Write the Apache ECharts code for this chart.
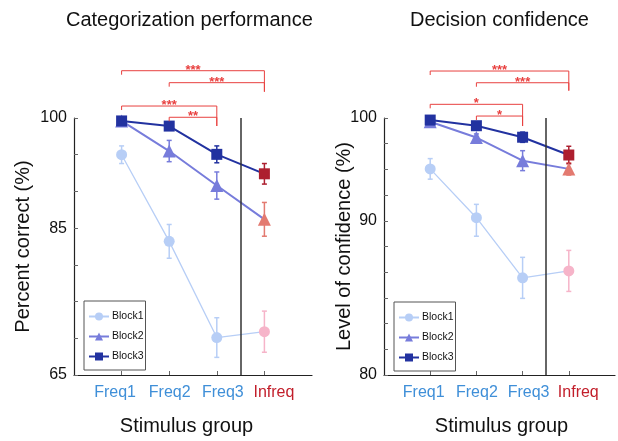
<!DOCTYPE html>
<html>
<head>
<meta charset="utf-8">
<script src="https://cdn.jsdelivr.net/npm/echarts/dist/echarts.min.js"></script>
<style>
    html, body { margin: 0; padding: 0; background: #fff; }
    #main { width: 618px; height: 441px; }
</style>
</head>
<body>
<div id="main"></div>
<script>
// 分组
const groups = ['Freq1', 'Freq2', 'Freq3', 'Infreq']
const groupPos = [1, 2, 3, 4]
const dividerPos = 3.5

// 左图: Percent correct (%)
const perfBlock1 = [95.0, 83.2, 70.1, 70.9]
const perfBlock1Err = [1.2, 2.3, 2.7, 2.8]
const perfBlock2 = [99.6, 95.5, 90.8, 86.2]
const perfBlock2Err = [0.3, 1.45, 1.85, 2.3]
const perfBlock3 = [99.6, 98.9, 95.05, 92.4]
const perfBlock3Err = [0.2, 0.3, 1.15, 1.4]
const perfTickLabels = [65, 85, 100]

// 右图: Level of confidence (%)
const confBlock1 = [95.05, 90.3, 86.3, 86.75]
const confBlock1Err = [1.0, 1.3, 1.33, 1.33]
const confBlock2 = [99.64, 98.1, 95.85, 95.05]
const confBlock2Err = [0.2, 0.35, 0.97, 0.6]
const confBlock3 = [99.8, 99.25, 98.13, 96.4]
const confBlock3Err = [0.15, 0.3, 0.5, 0.85]
// 右图纵轴不是等距的: 刻度值 -> 轴上位置
const confTickPct = [80, 90, 100]
const confTickPos = [0, 6, 10]

// 显著性标记 [from, to, level, rightEnd, stars]
const perfBrackets = [
    [1, 4, 106.44, 103.58, '***'],
    [2, 4, 104.81, 103.58, '***'],
    [1, 3, 101.63, 98.91, '***'],
    [2, 3, 100.1, 98.91, '**']
]
const confBrackets = [
    [1, 4, 104.57, 102.66, '***'],
    [2, 4, 103.43, 102.66, '***'],
    [1, 3, 101.33, 99.22, '*'],
    [2, 3, 100.19, 99.22, '*']
]

const C1 = '#b7cef6', C1i = '#f6b4c9'
const C2 = '#777cdb', C2i = '#e37a70'
const C3 = '#2232a0', C3i = '#ad1f2f'
const RED = '#e8403f'
const FONT = 'Liberation Sans, Arial, Helvetica, sans-serif'

function same (p) { return p }
function confToAxis (p) {
    let i = p < confTickPct[1] ? 0 : 1
    let t = (p - confTickPct[i]) / (confTickPct[i + 1] - confTickPct[i])
    return confTickPos[i] + t * (confTickPos[i + 1] - confTickPos[i])
}

function lineSeries (name, vals, toAxis, gi, color, infreqColor, symbol, size, width, z) {
    return {
        name: name,
        type: 'line',
        xAxisIndex: gi,
        yAxisIndex: gi,
        data: vals.map(function (v, i) {
            let item = { value: [groupPos[i], toAxis(v)] }
            if (i === 3) item.itemStyle = { color: infreqColor }
            return item
        }),
        symbol: symbol,
        symbolSize: size,
        lineStyle: { color: color, width: width },
        itemStyle: { color: color },
        z: z,
        animation: false
    }
}

function errSeries (vals, errs, toAxis, gi, color, infreqColor) {
    return {
        type: 'custom',
        xAxisIndex: gi,
        yAxisIndex: gi,
        z: 1,
        silent: true,
        clip: false,
        animation: false,
        data: vals.map(function (v, i) {
            return [groupPos[i], toAxis(v - errs[i]), toAxis(v + errs[i])]
        }),
        renderItem: function (params, api) {
            let a = api.coord([api.value(0), api.value(1)])
            let b = api.coord([api.value(0), api.value(2)])
            let c = params.dataIndex === 3 ? infreqColor : color
            let w = 2.5
            let st = { stroke: c, lineWidth: 1.5 }
            return {
                type: 'group',
                children: [
                    { type: 'line', shape: { x1: a[0], y1: a[1], x2: b[0], y2: b[1] }, style: st },
                    { type: 'line', shape: { x1: a[0] - w, y1: a[1], x2: a[0] + w, y2: a[1] }, style: st },
                    { type: 'line', shape: { x1: b[0] - w, y1: b[1], x2: b[0] + w, y2: b[1] }, style: st }
                ]
            }
        }
    }
}

function bracketSeries (list, toAxis, gi) {
    return {
        type: 'custom',
        xAxisIndex: gi,
        yAxisIndex: gi,
        z: 5,
        silent: true,
        clip: false,
        animation: false,
        data: list.map(function (b) {
            return [b[0], b[1], toAxis(b[2]), toAxis(b[3])]
        }),
        renderItem: function (params, api) {
            let p1 = api.coord([api.value(0), api.value(2)])
            let p2 = api.coord([api.value(1), api.value(2)])
            let p3 = api.coord([api.value(1), api.value(3)])
            return {
                type: 'group',
                children: [
                    {
                        type: 'polyline',
                        shape: { points: [[p1[0], p1[1] + 4], p1, p2, p3] },
                        style: { stroke: RED, lineWidth: 1, fill: 'none' }
                    },
                    {
                        type: 'text',
                        style: {
                            text: list[params.dataIndex][4],
                            x: (p1[0] + p2[0]) / 2,
                            y: p1[1] + 6,
                            align: 'center',
                            verticalAlign: 'bottom',
                            fill: RED,
                            fontSize: 13,
                            fontWeight: 'bold',
                            fontFamily: FONT
                        }
                    }
                ]
            }
        }
    }
}

function xAxisCfg (gi, namePad) {
    let rich = {
        g1: { fontSize: 16, color: '#3f8fd8', padding: [0, 13, 0, 0] },
        g2: { fontSize: 16, color: '#3f8fd8', padding: [0, 0, 0, 1] },
        g3: { fontSize: 16, color: '#3f8fd8', padding: [0, 0, 0, 12] },
        g4: { fontSize: 16, color: '#c21e2a', padding: [0, 0, 0, 19] }
    }
    return {
        type: 'value',
        gridIndex: gi,
        min: 0,
        max: 5,
        interval: 1,
        name: 'Stimulus group',
        nameLocation: 'middle',
        nameGap: 41,
        nameMoveOverlap: false,
        nameTextStyle: { fontSize: 20, color: '#111', padding: namePad },
        axisLine: { lineStyle: { color: '#222', width: 1.2 } },
        axisTick: {
            inside: true,
            length: 4,
            lineStyle: { color: '#666' },
            customValues: groupPos
        },
        splitLine: { show: false },
        axisLabel: {
            margin: 10,
            formatter: function (v) {
                return (v >= 1 && v <= 4) ? '{g' + v + '|' + groups[v - 1] + '}' : ''
            },
            rich: rich
        }
    }
}

function yAxisBase (gi, name, gap) {
    return {
        type: 'value',
        gridIndex: gi,
        name: name,
        nameLocation: 'middle',
        nameGap: gap,
        nameMoveOverlap: false,
        nameTextStyle: { fontSize: 20, color: '#111' },
        axisLine: { show: true, lineStyle: { color: '#222', width: 1.2 } },
        axisTick: { show: true, inside: true, length: 4, lineStyle: { color: '#666' } },
        splitLine: { show: false },
        axisLabel: { fontSize: 16, color: '#111', margin: 7 }
    }
}

let yLeft = yAxisBase(0, 'Percent correct (%)', 41)
yLeft.min = 65
yLeft.max = 100
yLeft.interval = 5
yLeft.axisLabel.formatter = function (v) {
    return perfTickLabels.indexOf(v) >= 0 ? String(v) : ''
}

let yRight = yAxisBase(1, 'Level of confidence (%)', 30)
yRight.min = 0
yRight.max = 10
yRight.interval = 1
yRight.axisLabel.formatter = function (u) {
    let i = confTickPos.indexOf(u)
    return i >= 0 ? String(confTickPct[i]) : ''
}

function legendCfg (left, top) {
    return {
        data: ['Block1', 'Block2', 'Block3'],
        orient: 'vertical',
        left: left,
        top: top,
        itemWidth: 20,
        itemHeight: 10,
        itemGap: 9,
        padding: [10, 2, 8, 4],
        borderColor: '#555',
        borderWidth: 1,
        borderRadius: 0,
        textStyle: { fontSize: 10.5, color: '#111', padding: [0, 0, 0, -2] },
        selectedMode: false
    }
}

let series = [
    errSeries(perfBlock1, perfBlock1Err, same, 0, C1, C1i),
    errSeries(perfBlock2, perfBlock2Err, same, 0, C2, C2i),
    errSeries(perfBlock3, perfBlock3Err, same, 0, C3, C3i),
    lineSeries('Block1', perfBlock1, same, 0, C1, C1i, 'circle', 11, 1.3, 2),
    lineSeries('Block2', perfBlock2, same, 0, C2, C2i, 'triangle', 13, 2, 3),
    lineSeries('Block3', perfBlock3, same, 0, C3, C3i, 'rect', 11, 2, 4),
    bracketSeries(perfBrackets, same, 0),

    errSeries(confBlock1, confBlock1Err, confToAxis, 1, C1, C1i),
    errSeries(confBlock2, confBlock2Err, confToAxis, 1, C2, C2i),
    errSeries(confBlock3, confBlock3Err, confToAxis, 1, C3, C3i),
    lineSeries('Block1', confBlock1, confToAxis, 1, C1, C1i, 'circle', 11, 1.3, 2),
    lineSeries('Block2', confBlock2, confToAxis, 1, C2, C2i, 'triangle', 13, 2, 3),
    lineSeries('Block3', confBlock3, confToAxis, 1, C3, C3i, 'rect', 11, 2, 4),
    bracketSeries(confBrackets, confToAxis, 1)
]

// 分隔线 Freq | Infreq
;[5, 12].forEach(function (k) {
    series[k].markLine = {
        silent: true,
        symbol: 'none',
        animation: false,
        label: { show: false },
        lineStyle: { color: '#333', width: 1.5, type: 'solid' },
        data: [{ xAxis: dividerPos }]
    }
})

let myChart = echarts.init(document.getElementById('main'))
myChart.setOption({
    animation: false,
    textStyle: { fontFamily: FONT },
    title: [
        { text: 'Categorization performance', left: 61, top: 5, textStyle: { fontSize: 20, fontWeight: 'normal', color: '#111' } },
        { text: 'Decision confidence', left: 405, top: 5, textStyle: { fontSize: 20, fontWeight: 'normal', color: '#111' } }
    ],
    legend: [legendCfg(84, 301), legendCfg(394, 302)],
    grid: [
        { left: 74, top: 118, width: 238, height: 258 },
        { left: 384, top: 118, width: 237, height: 258 }
    ],
    xAxis: [xAxisCfg(0, [0, 13, 0, 0]), xAxisCfg(1, [0, 0, 0, 4])],
    yAxis: [yLeft, yRight],
    series: series
})
</script>
</body>
</html>
